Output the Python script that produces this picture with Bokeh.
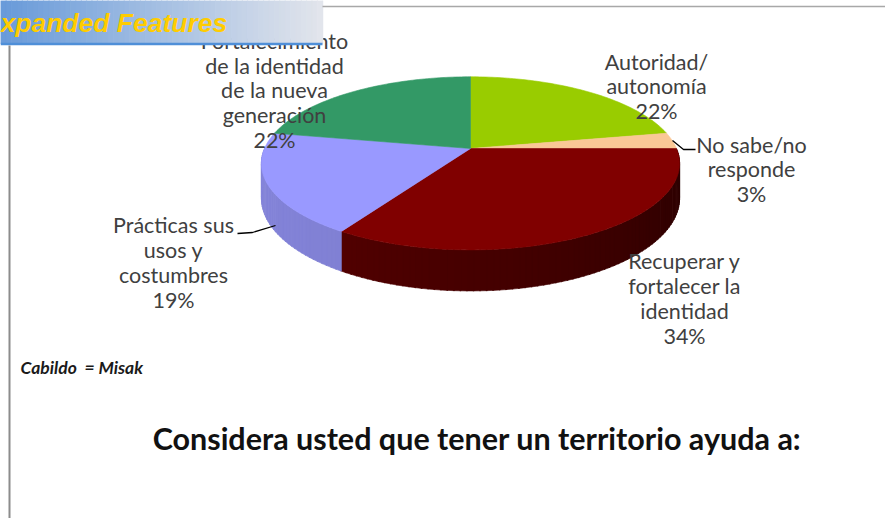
import math
from bokeh.plotting import figure
from bokeh.models import Range1d
from bokeh.embed import file_html
from bokeh.resources import INLINE
from bokeh.core.properties import value

# ---- data ----
categories = ["Autoridad/\nautonomía", "No sabe/no\nresponde",
              "Recuperar y\nfortalecer la\nidentidad",
              "Prácticas sus\nusos y\ncostumbres",
              "Fortalecimiento\nde la identidad\nde la nueva\ngeneración"]
percents = [22, 3, 34, 19, 22]
top_colors = ["#99CC00", "#FAC896", "#800000", "#9999FF", "#339966"]
side_left = [(120, 160, 0), (200, 160, 120), (100, 0, 0), (134, 134, 220), (40, 120, 80)]
side_right = [(120, 160, 0), (200, 160, 120), (42, 0, 0), (118, 118, 196), (40, 120, 80)]
title = "Considera usted que tener un territorio ayuda a:"
note = "Cabildo \u00a0= Misak"
banner_text = "xpanded Features"

# label layout (screen px)
label_pos = [(656, 86), (751, 169), (684, 298), (173, 262), (274, 90)]

W, H = 885, 518
p = figure(width=W, height=H, x_range=Range1d(0, W), y_range=Range1d(H, 0),
           output_backend="svg", toolbar_location=None, min_border=0,
           outline_line_color=None, background_fill_color="white",
           border_fill_color="white")
p.axis.visible = False
p.grid.visible = False

# pie geometry (perspective projected)
cx, cy, R, Ry, k, depth = 470.0, 148.0, 206.0, 84.0, 0.1716, 34.0


def proj(theta, down=0.0):
    t = math.radians(theta)
    u, v = math.sin(t), -math.cos(t)
    s = 1.0 / (1.0 - k * v)
    return cx + R * u * s, cy + Ry * v * s + down * s


total = float(sum(percents))
starts, ends = [], []
acc = 0.0
for pc in percents:
    starts.append(acc / total * 360.0)
    acc += pc
    ends.append(acc / total * 360.0)

# sides
sxs, sys_, scol = [], [], []
for i in range(len(percents)):
    a0, a1 = max(starts[i], 90.0), min(ends[i], 270.0)
    if a1 <= a0:
        continue
    n = max(2, int((a1 - a0) / 1.5))
    for j in range(n):
        t0 = a0 + (a1 - a0) * j / n
        t1 = a0 + (a1 - a0) * (j + 1) / n
        f = ((t0 + t1) / 2 - 90.0) / 180.0
        cl, cr = side_left[i], side_right[i]
        c = tuple(int(cr[m] + (cl[m] - cr[m]) * f) for m in range(3))
        x0, y0 = proj(t0)
        x1, y1 = proj(t1 + 0.3)
        x2, y2 = proj(t1 + 0.3, depth)
        x3, y3 = proj(t0, depth)
        sxs.append([x0, x1, x2, x3])
        sys_.append([y0, y1, y2, y3])
        scol.append("#%02x%02x%02x" % c)
p.patches(sxs, sys_, fill_color=scol, line_color=scol, line_width=0.6)

# tops
txs, tys = [], []
for i in range(len(percents)):
    xs, ys = [cx], [cy]
    n = max(2, int((ends[i] - starts[i]) / 1.0))
    for j in range(n + 1):
        x, y = proj(starts[i] + (ends[i] - starts[i]) * j / n)
        xs.append(x)
        ys.append(y)
    txs.append(xs)
    tys.append(ys)
p.patches(txs, tys, fill_color=top_colors, line_color=top_colors, line_width=0.6)

# leader lines
p.line([672, 683, 695], [140, 149, 149], line_color="#000000", line_width=1.3)
p.line([237, 252, 275], [233, 232, 225], line_color="#000000", line_width=1.3)

# labels
lx = [q[0] for q in label_pos]
ly = [q[1] for q in label_pos]
ltxt = ["%s\n%d%%" % (c, pc) for c, pc in zip(categories, percents)]
p.text(lx, ly, text=ltxt, text_font=value("Lato"), text_font_size="21.5px",
       text_color="#404040", text_align="center", text_baseline="middle",
       text_line_height=0.95)

# banner
nb = 60
bx0, bx1 = 0.0, 322.0
bxs, bys, bcol = [], [], []
for j in range(nb):
    xa = bx0 + (bx1 - bx0) * j / nb
    xb = bx0 + (bx1 - bx0) * (j + 1) / nb + 0.5
    f = j / (nb - 1)
    c = (int(105 + (226 - 105) * f), int(155 + (229 - 155) * f), int(218 + (236 - 218) * f))
    bxs.append([xa, xb, xb, xa])
    bys.append([0, 0, 43, 43])
    bcol.append("#%02x%02x%02x" % c)
p.patches(bxs, bys, fill_color=bcol, line_color=bcol, line_width=0.5)
p.line([0, 322], [43.5, 43.5], line_color="#4F8FD8", line_width=2.5)
p.text([0], [22], text=[banner_text], text_font=value("Liberation Sans"),
       text_font_size="26.5px", text_font_style="bold italic", text_color="#FFCC00",
       text_align="left", text_baseline="alphabetic")

# frame lines
p.line([322, 885], [6, 6], line_color="#A8A8A8", line_width=1.5)
p.line([9, 9], [45, 518], line_color="#8C8C8C", line_width=2)

# note and title
p.text([20], [367], text=[note], text_font=value("Lato"), text_font_size="17.5px",
       text_font_style="bold italic", text_color="#1a1a1a", text_align="left",
       text_baseline="middle")
p.text([476.5], [437], text=[title], text_font=value("Lato"), text_font_size="30.5px",
       text_font_style="bold", text_color="#111111", text_align="center",
       text_baseline="middle")

open("out.html", "w").write(file_html(p, INLINE))
